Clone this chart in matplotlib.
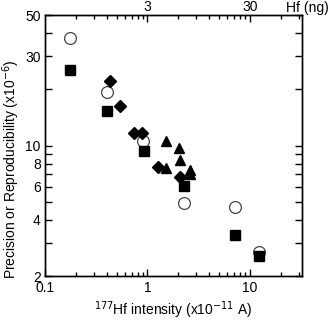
import numpy as np
import matplotlib
matplotlib.use('Agg')
import matplotlib.pyplot as plt
from matplotlib.ticker import FixedLocator, FixedFormatter, LogLocator, NullFormatter

plt.rcParams['font.family'] = ['Liberation Sans', 'DejaVu Sans']
plt.rcParams['font.size'] = 10

# open circles
circ_x = [0.176, 0.40, 0.91, 2.27, 7.13, 12.1]
circ_y = [37.8, 19.4, 10.6, 4.90, 4.67, 2.70]
# filled squares
sq_x = [0.176, 0.40, 0.92, 2.25, 7.13, 12.1]
sq_y = [25.3, 15.25, 9.34, 6.07, 3.33, 2.55]
# filled diamonds
dm_x = [0.43, 0.535, 0.746, 0.887, 1.28, 2.07]
dm_y = [22.2, 16.3, 11.7, 11.7, 7.70, 6.76]
# filled triangles
tr_x = [1.52, 2.03, 2.06, 1.52, 2.58, 2.60]
tr_y = [10.6, 9.66, 8.36, 7.55, 7.35, 7.05]

ytick_vals = [2, 3, 4, 5, 6, 7, 8, 9, 10, 20, 30, 40, 50]
ytick_lab = ['2', '', '4', '', '6', '', '8', '', '10', '', '30', '', '50']

fig = plt.figure(figsize=(3.3, 3.2), dpi=100)
ax = fig.add_axes([0.136, 0.1375, 0.779, 0.8155])

ax.plot(circ_x, circ_y, 'o', mfc='white', mec='#444444', mew=0.9, ms=8.5, zorder=2)
ax.plot(sq_x, sq_y, 's', color='black', ms=6.5, zorder=3)
ax.plot(dm_x, dm_y, 'D', color='black', ms=6, zorder=3)
ax.plot(tr_x, tr_y, '^', color='black', ms=7.5, zorder=3)

ax.set_xscale('log')
ax.set_yscale('log')
ax.set_xlim(0.1, 32)
ax.set_ylim(2, 50)

ax.yaxis.set_major_locator(FixedLocator(ytick_vals))
ax.yaxis.set_major_formatter(FixedFormatter(ytick_lab))
ax.yaxis.set_minor_locator(FixedLocator([]))
ax.xaxis.set_major_locator(FixedLocator([0.1, 1, 10]))
ax.xaxis.set_major_formatter(FixedFormatter(['0.1', '1', '10']))
ax.xaxis.set_minor_locator(LogLocator(base=10, subs=np.arange(2, 10)))
ax.xaxis.set_minor_formatter(NullFormatter())

ax.tick_params(which='both', direction='in', right=True, width=1)
ax.tick_params(which='major', length=5)
ax.tick_params(which='minor', length=3)
ax.tick_params(axis='y', pad=3)

# top axis: Hf amount (ng)
ax2 = ax.twiny()
ax2.set_xscale('log')
ax2.set_xlim(ax.get_xlim())
ax2.xaxis.set_major_locator(FixedLocator([1, 10]))
ax2.xaxis.set_major_formatter(FixedFormatter(['3', '30']))
ax2.xaxis.set_minor_locator(LogLocator(base=10, subs=np.arange(2, 10)))
ax2.xaxis.set_minor_formatter(NullFormatter())
ax2.tick_params(which='both', direction='in', width=1, pad=1)
ax2.tick_params(which='major', length=5)
ax2.tick_params(which='minor', length=3)

for a in (ax, ax2):
    for s in a.spines.values():
        s.set_linewidth(1)

fig.text(0.997, 0.976, 'Hf (ng)', ha='right', va='center', fontsize=10)

ax.set_xlabel(r'$^{177}$Hf intensity (x10$^{-11}$ A)', fontsize=10, labelpad=3)
ax.set_ylabel(r'Precision or Reproducibility (x10$^{-6}$)', fontsize=10)
ax.yaxis.set_label_coords(-0.09, 0.41)

fig.savefig('out.png', dpi=100)
